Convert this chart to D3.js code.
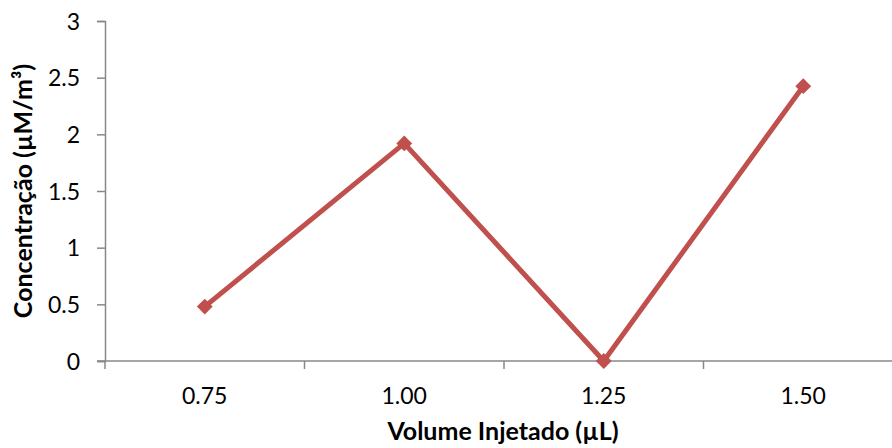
<!DOCTYPE html>
<html>
<head>
<meta charset="utf-8">
<script src="https://cdn.jsdelivr.net/npm/d3@7"></script>
<style>
  html, body { margin: 0; padding: 0; background: #fff; }
  svg { display: block; }
  text { font-family: Lato, "Open Sans", sans-serif; fill: #000; }
</style>
</head>
<body>
<svg id="chart" width="892" height="448"></svg>
<script>
// Injected volume categories and measured concentration
const volumes = ["0.75", "1.00", "1.25", "1.50"];
const concentration = [0.48, 1.92, 0.0, 2.425];
const yTicks = [0, 0.5, 1, 1.5, 2, 2.5, 3];

const svg = d3.select("#chart");
const plotLeft = 105, plotRight = 903, plotTop = 21, plotBottom = 361;

const x = d3.scaleBand().domain(volumes).range([plotLeft, plotRight]).padding(0);
const y = d3.scaleLinear().domain([0, 3]).range([plotBottom, plotTop]);

const axisColor = "#888";
const tickFont = 23, titleFont = 25;

// Y axis
const yAxis = svg.append("g")
  .attr("transform", `translate(${plotLeft},0)`)
  .call(d3.axisLeft(y).tickValues(yTicks).tickSize(8).tickPadding(17)
    .tickFormat(d => String(d)));
yAxis.select(".domain").attr("stroke", axisColor).attr("stroke-width", 1.5);
yAxis.selectAll(".tick line").attr("stroke", axisColor).attr("stroke-width", 1.5);
yAxis.selectAll(".tick text")
  .attr("font-size", tickFont)
  .attr("font-family", "Lato, sans-serif")
  .attr("fill", "#000")
  .attr("dy", "0.36em");

// X axis with ticks on category boundaries
const boundaries = volumes.map(v => x(v)).concat([plotRight]);
const xg = svg.append("g");
xg.append("line")
  .attr("x1", plotLeft - 8).attr("x2", plotRight)
  .attr("y1", plotBottom).attr("y2", plotBottom)
  .attr("stroke", axisColor).attr("stroke-width", 1.5);
xg.selectAll("line.tk").data(boundaries).join("line")
  .attr("class", "tk")
  .attr("x1", d => d).attr("x2", d => d)
  .attr("y1", plotBottom).attr("y2", plotBottom + 8)
  .attr("stroke", axisColor).attr("stroke-width", 1.5);
xg.selectAll("text").data(volumes).join("text")
  .attr("x", d => x(d) + x.bandwidth() / 2)
  .attr("y", 404)
  .attr("text-anchor", "middle")
  .attr("font-size", tickFont)
  .text(d => d);

// Axis titles
svg.append("text")
  .attr("x", 503).attr("y", 440)
  .attr("text-anchor", "middle")
  .attr("font-size", titleFont).attr("font-weight", "bold")
  .text("Volume Injetado (µL)");
svg.append("text")
  .attr("transform", "translate(32,191) rotate(-90)")
  .attr("text-anchor", "middle")
  .attr("font-size", titleFont).attr("font-weight", "bold")
  .text("Concentração (µM/m³)");

// Series line and diamond markers
const color = "#C0504D";
const pts = volumes.map((v, i) => [x(v) + x.bandwidth() / 2, y(concentration[i])]);
svg.append("path")
  .attr("d", d3.line()(pts))
  .attr("fill", "none")
  .attr("stroke", color)
  .attr("stroke-width", 5)
  .attr("stroke-linejoin", "round");
svg.selectAll("path.mk").data(pts).join("path")
  .attr("class", "mk")
  .attr("transform", d => `translate(${d[0]},${d[1]})`)
  .attr("d", d3.symbol().type(d3.symbolDiamond2).size(160)())
  .attr("fill", color);
</script>
</body>
</html>
